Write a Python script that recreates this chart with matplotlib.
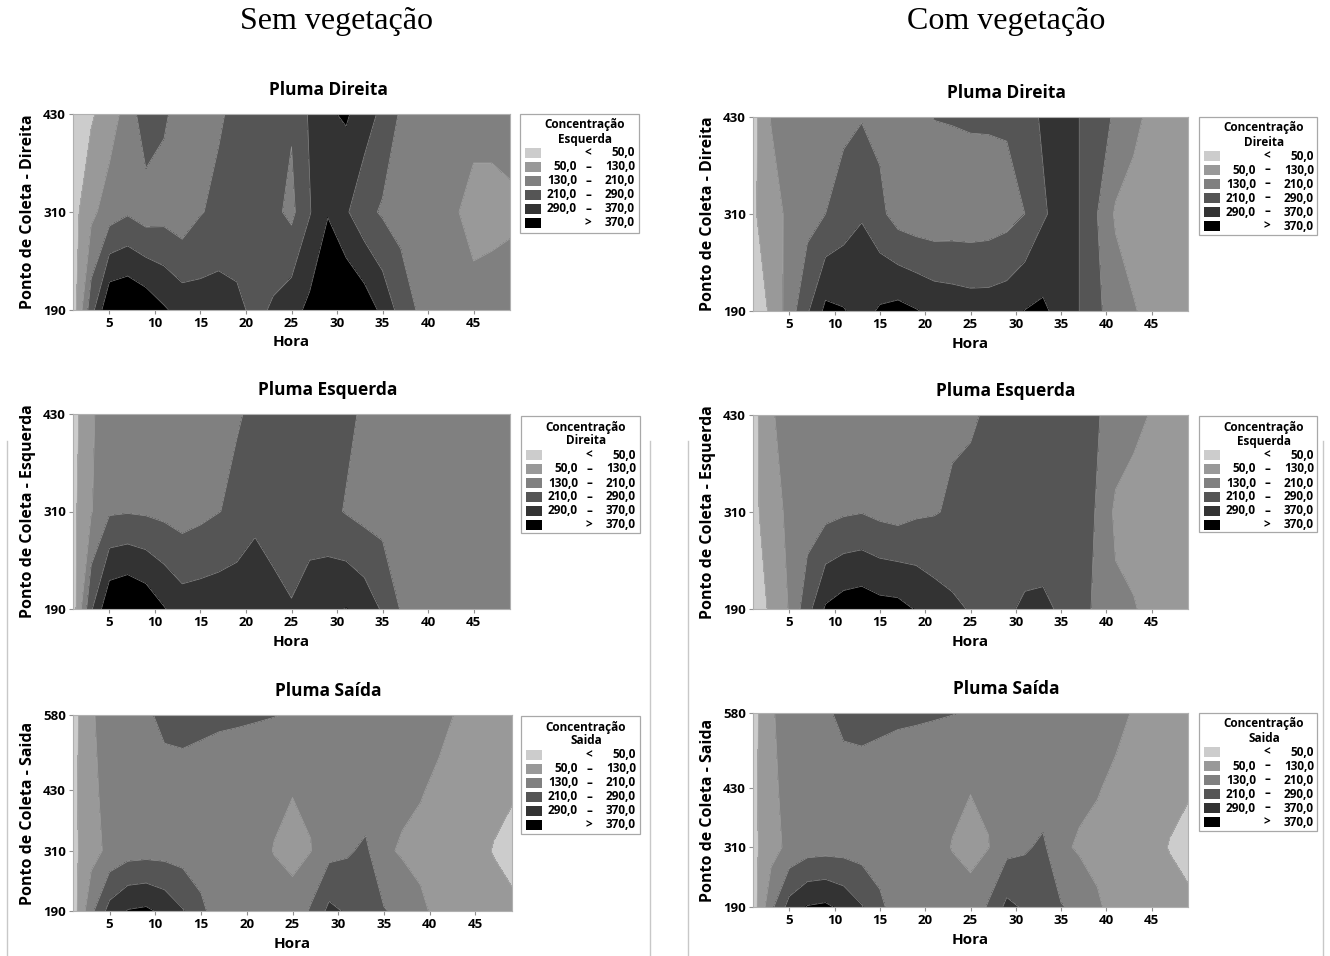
import matplotlib
matplotlib.use("Agg")
import matplotlib.pyplot as plt
import numpy as np
from matplotlib.patches import Rectangle
from matplotlib.lines import Line2D

plt.rcParams['font.family'] = ['Open Sans', 'DejaVu Sans']

# eixo x (Hora) e pontos de coleta
horas = list(range(1, 50, 2))
pontos = [190, 310, 430]
pontos_saida = [190, 310, 430, 580]

# faixas de concentração
niveis = [0, 50, 130, 210, 290, 370, 1000]
cores = ['#cccccc', '#999999', '#808080', '#555555', '#333333', '#000000']
faixas = [('', '<', '50,0'), ('50,0', '–', '130,0'), ('130,0', '–', '210,0'),
          ('210,0', '–', '290,0'), ('290,0', '–', '370,0'), ('', '>', '370,0')]

# valores (linhas = pontos de coleta, colunas = horas)
sem_direita = [
    [5, 257, 450, 460, 430, 380, 340, 330, 330, 310, 270, 300, 340, 390, 450, 450, 420, 350, 260, 200, 180, 170, 150, 160, 170],
    [20, 110, 170, 200, 170, 180, 160, 205, 230, 240, 240, 230, 190, 285, 365, 300, 235, 200, 180, 170, 150, 135, 110, 110, 115],
    [10, 40, 90, 163, 260, 220, 180, 190, 200, 230, 250, 270, 220, 300, 360, 380, 330, 270, 200, 180, 170, 160, 150, 150, 160],
]
com_direita = [
    [10, 60, 168, 280, 390, 375, 340, 380, 395, 375, 350, 340, 330, 330, 340, 372, 385, 340, 290, 225, 170, 135, 110, 100, 100],
    [40, 90, 150, 180, 210, 250, 285, 230, 175, 160, 155, 160, 160, 165, 180, 210, 280, 320, 290, 210, 120, 100, 90, 90, 95],
    [20, 135, 150, 160, 170, 190, 205, 190, 180, 190, 212, 215, 220, 220, 220, 260, 300, 320, 290, 240, 200, 150, 110, 100, 100],
]
sem_esquerda = [
    [5, 280, 440, 460, 430, 375, 330, 335, 340, 350, 345, 320, 295, 330, 360, 372, 340, 280, 205, 190, 180, 175, 170, 170, 170],
    [30, 125, 200, 205, 200, 190, 175, 190, 208, 225, 270, 250, 250, 250, 230, 205, 185, 180, 175, 170, 170, 170, 170, 170, 170],
    [15, 125, 150, 160, 170, 175, 180, 185, 195, 205, 220, 240, 250, 250, 240, 225, 200, 190, 185, 180, 175, 170, 170, 170, 170],
]
com_esquerda = [
    [15, 60, 135, 260, 380, 410, 420, 400, 395, 365, 330, 305, 285, 270, 280, 300, 305, 280, 265, 180, 145, 135, 110, 100, 100],
    [30, 90, 150, 170, 185, 200, 207, 190, 180, 198, 205, 220, 235, 245, 250, 245, 240, 245, 240, 205, 115, 100, 95, 95, 100],
    [20, 125, 150, 160, 170, 180, 185, 190, 195, 195, 200, 200, 200, 220, 230, 225, 225, 230, 230, 215, 180, 150, 125, 110, 110],
]
sem_saida = [
    [10, 190, 320, 375, 385, 350, 295, 227, 170, 175, 175, 165, 150, 220, 310, 280, 270, 215, 190, 145, 110, 100, 95, 90, 60],
    [30, 100, 150, 175, 180, 180, 175, 170, 165, 160, 155, 127, 115, 128, 185, 200, 225, 145, 120, 110, 100, 90, 80, 45, 35],
    [30, 110, 160, 175, 180, 185, 185, 180, 175, 170, 165, 145, 132, 138, 160, 165, 165, 160, 150, 135, 115, 100, 90, 75, 55],
    [20, 120, 170, 190, 200, 225, 230, 225, 220, 218, 215, 212, 205, 190, 180, 180, 175, 175, 170, 165, 150, 125, 110, 100, 95],
]
com_saida = [
    [10, 190, 320, 375, 385, 350, 295, 227, 170, 175, 175, 165, 150, 220, 310, 280, 270, 215, 190, 140, 105, 100, 95, 90, 60],
    [30, 100, 150, 175, 180, 180, 175, 170, 165, 160, 155, 127, 115, 128, 185, 200, 225, 145, 120, 110, 100, 90, 80, 45, 35],
    [30, 110, 160, 175, 180, 185, 185, 180, 175, 170, 165, 145, 132, 138, 160, 165, 165, 160, 150, 135, 115, 100, 90, 75, 55],
    [20, 120, 170, 190, 200, 225, 230, 225, 220, 218, 215, 212, 205, 190, 180, 180, 175, 175, 170, 165, 150, 125, 110, 100, 95],
]

W, H = 1330, 956
fig = plt.figure(figsize=(W / 100, H / 100), dpi=100)


def fx(x):
    return x / W


def fy(y):
    return 1 - y / H


def legenda(x0, y0, x1, y1, nome):
    fig.patches.append(Rectangle((fx(x0), fy(y1)), (x1 - x0) / W, (y1 - y0) / H,
                                 transform=fig.transFigure, fill=False,
                                 edgecolor='#a8a8a8', lw=0.9))
    kw = dict(va='center', size=8.5, weight='bold')
    fig.text(fx(x0 + 65), fy(y0 + 11), 'Concentração', ha='center', **kw)
    fig.text(fx(x0 + 65), fy(y0 + 25), nome, ha='center', **kw)
    for i, (cor, (a, s, b)) in enumerate(zip(cores, faixas)):
        yy = y0 + 39 + 14 * i
        fig.patches.append(Rectangle((fx(x0 + 5), fy(yy + 5)), 16 / W, 10 / H,
                                     transform=fig.transFigure, facecolor=cor,
                                     edgecolor='none'))
        fig.text(fx(x0 + 57), fy(yy), a, ha='right', **kw)
        fig.text(fx(x0 + 68), fy(yy), s, ha='center', **kw)
        fig.text(fx(x0 + 115), fy(yy), b, ha='right', **kw)


paineis = [
    (sem_direita, pontos, 'Pluma Direita', 'Ponto de Coleta - Direita', 'Esquerda',
     (73, 114, 510, 310), (520, 114, 639, 233), 328),
    (com_direita, pontos, 'Pluma Direita', 'Ponto de Coleta - Direita', 'Direita',
     (753, 117, 1188, 311), (1199, 117, 1317, 235), 1006),
    (sem_esquerda, pontos, 'Pluma Esquerda', 'Ponto de Coleta - Esquerda', 'Direita',
     (73, 414, 510, 609), (521, 416, 640, 533), 328),
    (com_esquerda, pontos, 'Pluma Esquerda', 'Ponto de Coleta - Esquerda', 'Esquerda',
     (753, 415, 1188, 609), (1199, 416, 1317, 532), 1006),
    (sem_saida, pontos_saida, 'Pluma Saída', 'Ponto de Coleta - Saida', 'Saida',
     (73, 715, 512, 911), (521, 716, 640, 834), 328),
    (com_saida, pontos_saida, 'Pluma Saída', 'Ponto de Coleta - Saida', 'Saida',
     (753, 713, 1188, 907), (1199, 713, 1317, 831), 1006),
]

for z, ys, titulo, ylab, nome, (l, t, r, b), caixa, xt in paineis:
    ax = fig.add_axes([fx(l), fy(b), (r - l) / W, (b - t) / H])
    X, Y = np.meshgrid(horas, ys)
    Z = np.array(z, dtype=float)
    ax.contourf(X, Y, Z, levels=niveis, colors=cores)
    ax.contour(X, Y, Z, levels=niveis[1:-1], colors='#b0b0b0', linewidths=0.5, alpha=0.7)
    ax.set_xlim(1, 49)
    ax.set_ylim(ys[0], ys[-1])
    ax.set_xticks(range(5, 50, 5))
    ax.set_yticks(ys)
    ax.tick_params(labelsize=9.5, length=3, width=0.8, color='#909090', pad=2)
    for lab in ax.get_xticklabels() + ax.get_yticklabels():
        lab.set_fontweight('bold')
    for sp in ax.spines.values():
        sp.set_color('#b0b0b0')
        sp.set_linewidth(0.8)
    fig.text(fx(xt), fy(t - 24), titulo, ha='center', va='center',
             size=12.5, weight='bold')
    ax.set_xlabel('Hora', size=11, weight='bold', labelpad=4)
    ax.set_ylabel(ylab, size=11.5, weight='bold', labelpad=5)
    legenda(*caixa, nome)

fig.text(fx(337), fy(22), 'Sem vegetação', ha='center', va='center',
         family='Liberation Serif', size=23)
fig.text(fx(1006), fy(22), 'Com vegetação', ha='center', va='center',
         family='Liberation Serif', size=23)

for xl in (7, 650, 688, 1323):
    fig.add_artist(Line2D([fx(xl), fx(xl)], [fy(441), fy(956)],
                          transform=fig.transFigure, color='#c8c8c8', lw=1))

fig.savefig('out.png', dpi=100)
